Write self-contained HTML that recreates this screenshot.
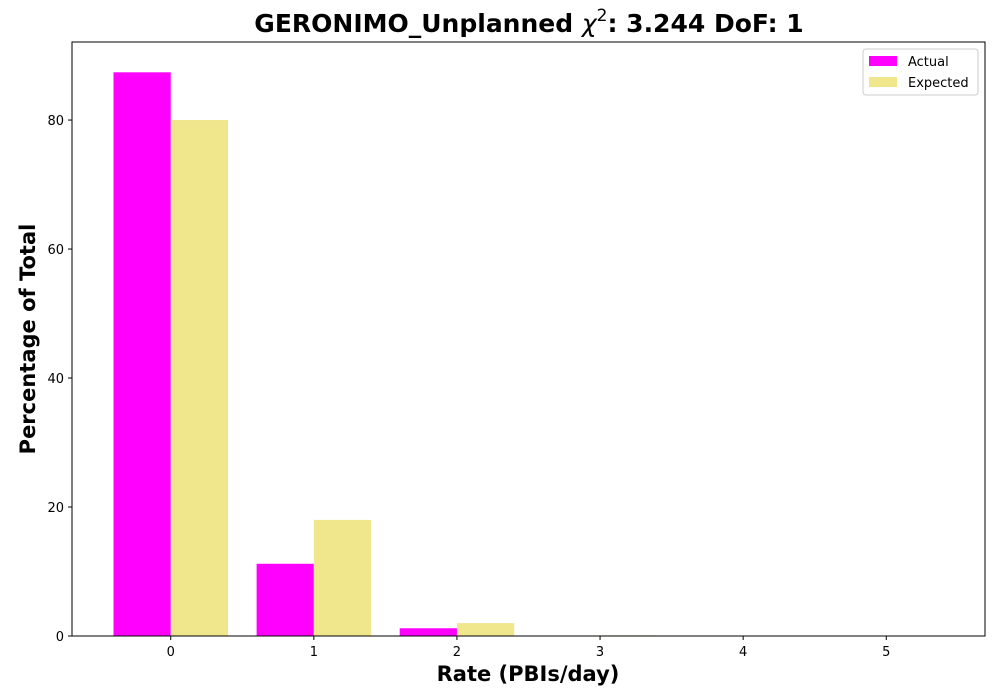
<!DOCTYPE html>
<html><head><meta charset="utf-8"><style>
body{margin:0;background:#fff;}
svg{display:block;font-family:"DejaVu Sans","Liberation Sans",sans-serif;}
</style></head><body>
<svg id="chart" width="1000" height="700"></svg>
<script>
const categories=[0,1,2,3,4,5];
const actualValues=[87.4,11.2,1.2,0,0,0];
const expectedValues=[80.0,18.0,2.0,0.1,0,0];
const yTicks=[0,20,40,60,80];
const xTickLabels=["0","1","2","3","4","5"];

const L=72,R=985,T=42,B=636;
const xMin=-0.69,xMax=5.69,yMin=0,yMax=92.1;
const xs=v=>L+(v-xMin)/(xMax-xMin)*(R-L);
const ys=v=>B-(v-yMin)/(yMax-yMin)*(B-T);
const svg=document.getElementById('chart');
const NS='http://www.w3.org/2000/svg';
function mk(t,a,txt){const e=document.createElementNS(NS,t);for(const k in a)e.setAttribute(k,a[k]);if(txt!==undefined)e.textContent=txt;svg.appendChild(e);return e;}

categories.forEach((c,i)=>{
  const w=xs(0.4)-xs(0);
  const a=mk('rect',{x:xs(c-0.4),y:ys(actualValues[i]),width:w,height:ys(0)-ys(actualValues[i]),fill:'#ff00ff'});
  
  
  const e=mk('rect',{x:xs(c),y:ys(expectedValues[i]),width:w,height:ys(0)-ys(expectedValues[i]),fill:'#f0e68c'});
  
  
});
const frame=mk('rect',{x:L,y:T,width:R-L,height:B-T,fill:'none',stroke:'#000','stroke-width':1});


yTicks.forEach(v=>{
  mk('line',{x1:L-4,x2:L,y1:ys(v),y2:ys(v),stroke:'#000'});
  const t=mk('text',{x:L-8,y:ys(v)+5,'text-anchor':'end','font-size':13},String(v));
  
  
});
categories.forEach((c,i)=>{
  mk('line',{x1:xs(c),x2:xs(c),y1:B,y2:B+4,stroke:'#000'});
  const t=mk('text',{x:xs(c),y:B+20,'text-anchor':'middle','font-size':13},xTickLabels[i]);
  
  
});
</script>
<svg style="position:absolute;left:0;top:0" width="1000" height="700">
<text x="529" y="32" text-anchor="middle" font-size="25" font-weight="bold">GERONIMO_Unplanned <tspan font-style="italic" font-weight="normal">χ</tspan><tspan font-size="17" font-weight="normal" dy="-11">2</tspan><tspan dy="11">: 3.244 DoF: 1</tspan></text>
<text x="528" y="681" text-anchor="middle" font-size="21" font-weight="bold">Rate (PBIs/day)</text>
<text transform="translate(35,339) rotate(-90)" text-anchor="middle" font-size="21" font-weight="bold">Percentage of Total</text>
<g>
<rect x="863" y="49" width="115" height="46" rx="3" fill="#fff" stroke="#ccc"/>
<rect x="869" y="56" width="28" height="10" fill="#ff00ff"/>
<text x="908" y="66" font-size="13">Actual</text>
<rect x="869" y="77" width="28" height="10" fill="#f0e68c"/>
<text x="908" y="87" font-size="13">Expected</text>
</g>
</svg>
</body></html>
